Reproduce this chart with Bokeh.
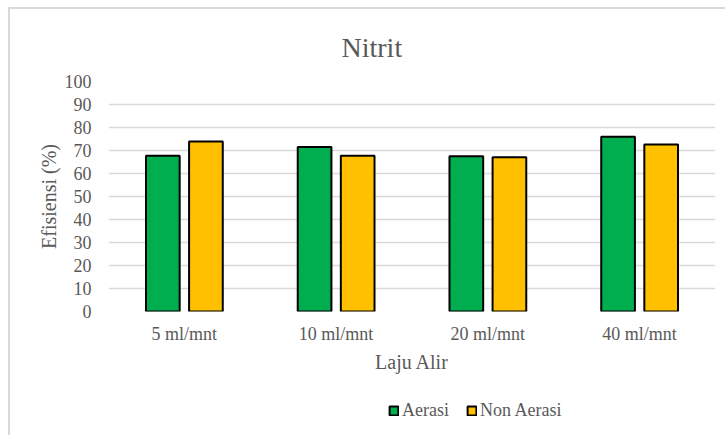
from bokeh.plotting import figure
from bokeh.layouts import column
from bokeh.models import (FactorRange, Range1d, ColumnDataSource, Legend, LegendItem,
                          SingleIntervalTicker)
from bokeh.transform import dodge
from bokeh.embed import file_html
from bokeh.resources import INLINE

# Flow rates and nitrite removal efficiency (%)
categories = ["5 ml/mnt", "10 ml/mnt", "20 ml/mnt", "40 ml/mnt"]
aerasi = [67.7, 71.5, 67.5, 76.0]
non_aerasi = [73.9, 67.7, 67.1, 72.6]

SERIF = "Liberation Serif"
TXT = "#595959"
GRID = "#d9d9d9"
GREEN = "#00ad4f"
GOLD = "#ffc000"

source = ColumnDataSource(dict(cat=categories, aerasi=aerasi, non_aerasi=non_aerasi))
x_range = FactorRange(*categories)


def add_bars(fig):
    a = fig.vbar(x=dodge("cat", -0.142, range=x_range), top="aerasi", width=0.222,
                 source=source, fill_color=GREEN, line_color="black", line_width=2)
    n = fig.vbar(x=dodge("cat", 0.142, range=x_range), top="non_aerasi", width=0.222,
                 source=source, fill_color=GOLD, line_color="black", line_width=2)
    return a, n


# main chart
p = figure(width=715, height=384, frame_width=607, frame_height=230,
           x_range=x_range, y_range=Range1d(0, 100),
           output_backend="svg", toolbar_location=None,
           min_border_left=98, min_border_right=10, min_border_top=72,
           min_border_bottom=82)
p.background_fill_color = "white"
p.border_fill_color = "white"
p.outline_line_color = None
add_bars(p)

p.title.text = "Nitrit"
p.title.align = "left"
p.title.offset = 233
p.title.standoff = 38
p.title.text_font = SERIF
p.title.text_font_size = "28px"
p.title.text_font_style = "normal"
p.title.text_color = TXT

p.yaxis.ticker = SingleIntervalTicker(interval=10)
p.yaxis.axis_line_color = None
p.yaxis.major_tick_line_color = None
p.yaxis.minor_tick_line_color = None
p.yaxis.major_label_standoff = 11
p.yaxis.major_label_text_font = SERIF
p.yaxis.major_label_text_font_size = "18px"
p.yaxis.major_label_text_color = TXT
p.yaxis.axis_label = "Efisiensi (%)"
p.yaxis.axis_label_standoff = 2
p.yaxis.axis_label_text_font = SERIF
p.yaxis.axis_label_text_font_size = "20px"
p.yaxis.axis_label_text_font_style = "normal"
p.yaxis.axis_label_text_color = TXT

p.xaxis.axis_line_color = None
p.xaxis.major_tick_line_color = None
p.xaxis.minor_tick_line_color = None
p.xaxis.major_label_standoff = 6
p.xaxis.major_label_text_font = SERIF
p.xaxis.major_label_text_font_size = "18px"
p.xaxis.major_label_text_color = TXT
p.xaxis.axis_label = "Laju Alir"
p.xaxis.axis_label_standoff = 4
p.xaxis.axis_label_text_font = SERIF
p.xaxis.axis_label_text_font_size = "20px"
p.xaxis.axis_label_text_font_style = "normal"
p.xaxis.axis_label_text_color = TXT

p.xgrid.grid_line_color = None
p.ygrid.grid_line_color = GRID
p.ygrid.grid_line_width = 1.5

# legend strip under the chart: same series, hidden renderers, so only the
# legend entries show
lg = figure(width=715, height=42, x_range=x_range, y_range=Range1d(1000, 1100),
            output_backend="svg", toolbar_location=None, title=None,
            x_axis_location=None, y_axis_location=None, min_border=0)
lg.background_fill_color = "white"
lg.border_fill_color = "white"
lg.outline_line_color = None
lg.grid.visible = False
la, ln = add_bars(lg)
la.visible = False
ln.visible = False

legend = Legend(items=[LegendItem(label="Aerasi", renderers=[la]),
                       LegendItem(label="Non Aerasi", renderers=[ln])],
                orientation="horizontal", location=(280, 14), click_policy="none",
                glyph_width=11, glyph_height=11, label_standoff=3, spacing=17,
                padding=0, margin=0, border_line_color=None,
                background_fill_alpha=0,
                label_text_font=SERIF, label_text_font_size="18px",
                label_text_color=TXT)
lg.add_layout(legend, "center")

# chart box: light grey frame on the top and left edges
layout = column(p, lg, spacing=0,
                styles={"border-top": "2px solid #d9d9d9",
                        "border-left": "2px solid #d9d9d9",
                        "margin-top": "7px", "margin-left": "8px",
                        "vertical-align": "top"})

open("out.html", "w").write(file_html(layout, INLINE))
